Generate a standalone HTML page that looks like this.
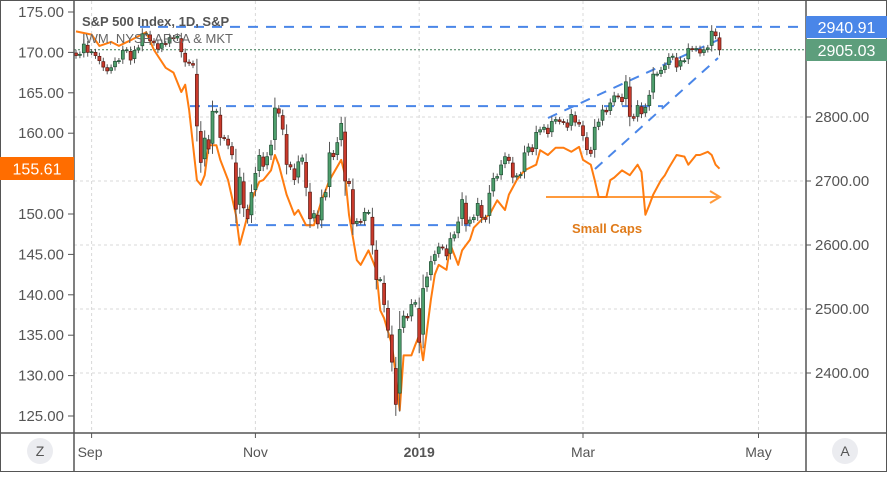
<!DOCTYPE html>
<html><head><meta charset="utf-8"><style>
html,body{margin:0;padding:0;background:#fff;}
body{width:887px;height:472px;overflow:hidden;font-family:"Liberation Sans",sans-serif;}
svg text{font-family:"Liberation Sans",sans-serif;}
</style></head><body>
<svg id="chart" width="887" height="472" viewBox="0 0 887 472" xmlns="http://www.w3.org/2000/svg">
<rect x="0.5" y="0.5" width="886" height="471" fill="#fff" stroke="#555"/>
<g id="grid"></g>
<g id="levels"></g>
<g id="iwm"></g>
<g id="candles"></g>
<g id="axes"></g>
</svg>
<script>
const spxClose=[2896,2898,2914,2901,2902,
2896,2888,2878,2872,2877,2887,2888,2904,2905,2889,2904,2908,2930,2930,2919,2916,2906,2915,2914,
2924,2923,2926,2902,2886,2884,2881,2786,2729,2767,2750,2809,2809,2768,2767,2756,2741,2656,2706,2658,2641,2682,2712,
2740,2723,2738,2756,2814,2806,2781,2726,2722,2702,2730,2736,2690,2641,2649,2633,2674,2682,2744,2738,2760,
2790,2700,2696,2633,2637,2636,2651,2651,2600,2546,2546,2507,2467,2417,2351,2468,2489,2486,2507,
2510,2448,2532,2550,2574,2585,2597,2596,2583,2610,2616,2636,2671,2633,2639,2643,2665,2643,2640,2681,2704,
2707,2725,2738,2732,2706,2708,2710,2744,2753,2746,2776,2780,2784,2774,2793,2796,2793,2792,2784,
2804,2792,2789,2771,2749,2743,2784,2792,2811,2808,2822,2833,2832,2824,2855,2801,2798,2818,2805,2815,2834,
2867,2867,2873,2880,2893,2895,2878,2888,2888,2907,2906,2907,2900,2905,2908,2934,2927,2905];
const iwmDays=[0,4,6,9,11,14,18,20,23,25,27,28,29,31,32,33,34,36,37,39,41,42,43,45,47,48,50,51,52,54,56,57,59,61,63,65,68,69,70,72,73,75,77,78,79,81,82,83,84,86,87,88,89,91,92,93,95,96,98,99,101,102,104,106,108,110,111,113,115,118,119,121,123,125,127,129,130,132,133,134,136,137,138,140,142,144,145,146,147,148,150,151,152,154,156,157,159,160,162,163,164,165];
const iwmVals=[172.6,172.2,170.8,171.3,170.8,171.5,172.5,170.3,168.1,167.5,165.1,166.0,162.9,154.2,153.6,154.8,158.5,158.5,156.7,154.2,149.9,146.2,148.0,151.7,154.0,154.2,155.4,157.3,156.1,152.4,149.9,150.5,148.6,148.6,151.7,154.2,156.7,154.8,149.9,144.3,143.7,145.5,143.1,138.1,137.1,133.8,130.1,125.7,132.5,132.5,133.8,135.0,131.9,139.4,142.5,143.7,143.1,146.2,143.7,145.5,146.8,148.3,149.3,149.9,151.7,150.5,152.4,154.2,155.4,156.1,157.9,157.3,158.2,158.2,157.7,158.3,156.7,156.1,154.2,152.1,152.1,154.2,154.5,155.4,154.8,156.1,155.2,149.9,151.1,152.4,154.2,154.8,155.7,157.3,157.1,156.1,157.3,157.3,157.7,157.3,156.1,155.61];
const leftTicks=[175,170,165,160,155,150,145,140,135,130,125];
const rightTicks=[2800,2700,2600,2500,2400];
const monthLabels=["Sep","Nov","2019","Mar","May"];
const monthDays=[4,46,88,130,175];
const resistLevels=[2940.91,2817,2631];
const lastSpx=2905.03, lastIwm=155.61;

const NS="http://www.w3.org/2000/svg";
const X0=76,DX=3.9,PL=74,PR=806,PT=1,PB=433;
const xd=i=>X0+i*DX;
const yL=v=>12+(175-v)*8.08;
const yR=v=>117-(v-2800)*0.64;
function mk(tag,attrs,parent,text){const e=document.createElementNS(NS,tag);for(const k in attrs)e.setAttribute(k,attrs[k]);if(text!==undefined)e.textContent=text;parent.appendChild(e);return e;}
const G=id=>document.getElementById(id);

// grid
rightTicks.forEach(t=>{const l=mk('line',{x1:PL,x2:PR,y1:yR(t),y2:yR(t),stroke:'#d8d8d8','stroke-dasharray':'3,3'},G('grid'));

});
monthDays.forEach(d=>{const l=mk('line',{x1:xd(d),x2:xd(d),y1:PT,y2:PB,stroke:'#d8d8d8','stroke-dasharray':'3,3'},G('grid'));

});

// levels
const lv=G('levels');
let e;
e=mk('line',{x1:140,x2:PR,y1:yR(resistLevels[0]),y2:yR(resistLevels[0]),stroke:'#4a86e8','stroke-width':2,'stroke-dasharray':'10,8'},lv);


e=mk('line',{x1:190,x2:663,y1:yR(resistLevels[1]),y2:yR(resistLevels[1]),stroke:'#4a86e8','stroke-width':2,'stroke-dasharray':'10,8'},lv);


e=mk('line',{x1:230,x2:470,y1:yR(resistLevels[2]),y2:yR(resistLevels[2]),stroke:'#4a86e8','stroke-width':2,'stroke-dasharray':'10,8'},lv);


e=mk('line',{x1:548,y1:118,x2:718,y2:40,stroke:'#4a86e8','stroke-width':2,'stroke-dasharray':'10,8'},lv);


e=mk('line',{x1:595,y1:169,x2:718,y2:58,stroke:'#4a86e8','stroke-width':2,'stroke-dasharray':'10,8'},lv);


e=mk('line',{x1:PL,x2:PR,y1:yR(lastSpx),y2:yR(lastSpx),stroke:'#3d7a55','stroke-width':1,'stroke-dasharray':'2,2'},lv);


e=mk('line',{x1:546,x2:718,y1:197,y2:197,stroke:'#ff9a3c','stroke-width':2},lv);


e=mk('path',{d:'M710,191 L720,197 L710,203',fill:'none',stroke:'#ff9a3c','stroke-width':2},lv);


e=mk('text',{x:572,y:233,fill:'#e07b1a','font-size':13,'font-weight':'bold'},lv,'Small Caps');



// IWM line
const pts=iwmDays.map((d,i)=>xd(d).toFixed(1)+','+yL(iwmVals[i]).toFixed(1)).join(' ');
e=mk('polyline',{points:pts,fill:'none',stroke:'#ff7c10','stroke-width':2,'stroke-linejoin':'round'},G('iwm'));



// candles
const cg=G('candles');
spxClose.forEach((c,i)=>{
  const o=i===0?2900:spxClose[i-1]+(c-spxClose[i-1])*0.15;
  const up=c>=o;
  const hi=Math.max(o,c)+4+Math.abs(c-o)*0.25, lo=Math.min(o,c)-4-Math.abs(c-o)*0.25;
  const x=xd(i);
  const w=mk('line',{x1:x,x2:x,y1:yR(hi),y2:yR(lo),stroke:'#555','stroke-width':1},cg);
  
  
  const y1=yR(Math.max(o,c)),y2=yR(Math.min(o,c));
  const b=mk('rect',{x:x-1.5,y:y1,width:3,height:Math.max(1,y2-y1),fill:up?'#4e9f6c':'#c93a2c',stroke:up?'#1f4d33':'#5a1a12','stroke-width':0.7},cg);
  
  
});

// axes
const ax=G('axes');
const frame=[[PL,0,PL,471],[PR,0,PR,471],[0,PB,887,PB]];
frame.forEach(f=>{const l=mk('line',{x1:f[0],y1:f[1],x2:f[2],y2:f[3],stroke:'#555','stroke-width':1.5},ax);

});
leftTicks.forEach(t=>{
  const y=yL(t);
  const tk=mk('line',{x1:68,x2:PL,y1:y,y2:y,stroke:'#555'},ax);
  
  
  const tx=mk('text',{x:64,y:y+5,'text-anchor':'end','font-size':15,fill:'#555'},ax,t.toFixed(2));
  
  
});
rightTicks.forEach(t=>{
  const y=yR(t);
  const tk=mk('line',{x1:PR,x2:PR+5,y1:y,y2:y,stroke:'#555'},ax);
  
  
  const tx=mk('text',{x:815,y:y+5,'font-size':15,fill:'#555'},ax,t.toFixed(2));
  
  
});
monthLabels.forEach((m,i)=>{
  const x=xd(monthDays[i]);
  const tk=mk('line',{x1:x,x2:x,y1:PB,y2:PB+5,stroke:'#555'},ax);
  
  
  const tx=mk('text',{x:i===0?x-14:x,y:457,'text-anchor':i===0?'start':'middle','font-size':14,fill:'#555','font-weight':m==='2019'?'bold':'normal'},ax,m);
  
  
});
// price labels
function badge(x,y,w,h,bg,txt,name,yy){
  const r=mk('rect',{x:x,y:y,width:w,height:h,fill:bg},ax);
  
  
  const t=mk('text',{x:x+w/2,y:y+h/2+6,'text-anchor':'middle','font-size':16,fill:'#fff'},ax,txt);
  
  
}
badge(806,16,81,22,'#4a86e8','2940.91','resistance-price-label');
badge(806,39,81,22,'#5d9e7c','2905.03','spx-last-price-label');
badge(0,157,74,23,'#ff6d00','155.61','iwm-last-price-label');
e=mk('text',{x:82,y:26,'font-size':13,fill:'#555','font-weight':'bold'},ax,'S&P 500 Index, 1D, S&P');


e=mk('text',{x:82,y:43,'font-size':13,fill:'#666'},ax,'IWM, NYSE ARCA & MKT');


[[40,'Z','timezone-button'],[845,'A','auto-scale-button']].forEach(b=>{
  const c=mk('circle',{cx:b[0],cy:451,r:13,fill:'#ebecf0'},ax);
  
  
  const t=mk('text',{x:b[0],y:456,'text-anchor':'middle','font-size':14,fill:'#555'},ax,b[1]);
  
  
});
</script>
</body></html>
